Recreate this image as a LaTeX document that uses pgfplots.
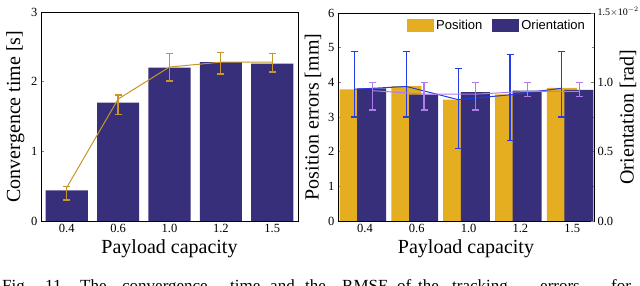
\documentclass[border=0pt]{standalone}
\usepackage{pgfplots}
\pgfplotsset{compat=1.18}
\usepackage{fontspec}
\setmainfont{Liberation Serif}
\newfontfamily\legfont{Liberation Sans}
\definecolor{navy}{RGB}{55,47,122}
\definecolor{gold}{RGB}{228,174,32}
\definecolor{ochre}{RGB}{200,150,40}
\definecolor{eblue}{RGB}{35,60,230}
\definecolor{epurp}{RGB}{175,125,235}
\begin{document}
\begin{tikzpicture}
\path[use as bounding box] (0pt,0pt) rectangle (640pt,286pt);
\pgfplotsset{
  base/.style={scale only axis, anchor=south west,
    xtick={0,...,4}, xticklabels={0.4,0.6,1.0,1.2,1.5},
    tick label style={font=\rmfamily\fontsize{12.5}{12.5}\selectfont},
    label style={font=\rmfamily\fontsize{20}{22}\selectfont},
    /pgf/number format/assume math mode=true,
    tick align=inside, major tick length=3pt, minor tick length=2pt,
    axis line style={line width=0.6pt}, tick style={line width=0.6pt}}
}
% ---------- left chart ----------
\begin{axis}[base, at={(41pt,65pt)}, width=257pt, height=209pt,
  xmin=-0.5, xmax=4.5, ymin=0, ymax=3, ytick={0,1,2,3},
  ytick pos=left, xtick pos=bottom,
  xlabel={Payload capacity}, ylabel={Convergence time [s]}]
\addplot[ybar, bar width=0.82, fill=navy, draw=none] coordinates {(0,0.44)(1,1.70)(2,2.20)(3,2.28)(4,2.26)};
\addplot[ochre, line width=1pt, mark=none,
  error bars/.cd, y dir=both, y explicit,
  error bar style={line width=1.2pt, ochre},
  error mark options={rotate=90, mark size=3.5pt, line width=1.2pt, ochre}]
  coordinates {(0,0.48) += (0,0.02) -= (0,0.18)
               (1,1.75) += (0,0.06) -= (0,0.22)
               (2,2.21) += (0,0.20) -= (0,0.20)
               (3,2.28) += (0,0.14) -= (0,0.17)
               (4,2.28) += (0,0.12) -= (0,0.14)};
\end{axis}
% ---------- right chart: position (left scale) ----------
\begin{axis}[base, at={(338pt,65pt)}, width=256pt, height=208pt,
  xmin=-0.52, xmax=4.42, ymin=0, ymax=6, ytick={0,...,6},
  ytick pos=left, xtick pos=bottom,
  xlabel={Payload capacity}, ylabel={Position errors [mm]}]
\addplot[ybar, bar width=0.58, bar shift=-0.2, fill=gold, draw=none] coordinates {(0,3.80)(1,3.89)(2,3.50)(3,3.65)(4,3.84)};
\end{axis}
% ---------- orientation (right scale) ----------
\begin{axis}[base, at={(338pt,65pt)}, width=256pt, height=208pt,
  xmin=-0.52, xmax=4.42, ymin=0, ymax=1.5,
  axis x line=none, axis y line*=right,
  ytick={0,0.5,1,1.5}, minor ytick={0.25,0.75,1.25},
  yticklabels={0.0,0.5,1.0,{\raisebox{4pt}{\fontsize{10}{10}\selectfont 1.5$\times$10$^{-2}$}}},
  ylabel={Orientation [rad]},
  every axis y label/.style={at={(axis description cs:1.133,0.5)}, rotate=90, anchor=center,
    font=\rmfamily\fontsize{20}{22}\selectfont},
  legend columns=2,
  legend style={draw=none, fill=none, at={(0.985,0.985)}, anchor=north east,
    font=\legfont\fontsize{13}{13}\selectfont,
    /tikz/every even column/.append style={column sep=8pt}},
  legend image code/.code={\fill[#1, draw=none] (0pt,-6.5pt) rectangle (27pt,6.5pt);}]
\addlegendimage{fill=gold, draw=none}
\addlegendentry{Position}
\addplot[ybar, bar width=0.56, bar shift=0.13, fill=navy, draw=none] coordinates {(0,0.957)(1,0.912)(2,0.930)(3,0.940)(4,0.945)};
\addlegendentry{Orientation}
\end{axis}
% ---------- position error bars (left scale) ----------
\begin{axis}[base, at={(338pt,65pt)}, width=256pt, height=208pt,
  xmin=-0.52, xmax=4.42, ymin=0, ymax=6, hide axis]
\addplot[eblue, line width=1pt, mark=none,
  error bars/.cd, y dir=both, y explicit,
  error bar style={line width=1.2pt, eblue},
  error mark options={rotate=90, mark size=3.5pt, line width=1.2pt, eblue}]
  coordinates {(-0.2,3.80) += (0,1.10) -= (0,0.80)
               (0.8,3.88) += (0,1.02) -= (0,0.88)
               (1.8,3.50) += (0,0.90) -= (0,1.40)
               (2.8,3.64) += (0,1.16) -= (0,1.31)
               (3.8,3.83) += (0,1.07) -= (0,0.83)};
\end{axis}
% ---------- orientation error bars (right scale) ----------
\begin{axis}[base, at={(338pt,65pt)}, width=256pt, height=208pt,
  xmin=-0.52, xmax=4.42, ymin=0, ymax=1.5, hide axis]
\addplot[epurp, line width=1pt, mark=none,
  error bars/.cd, y dir=both, y explicit,
  error bar style={line width=1.2pt, epurp},
  error mark options={rotate=90, mark size=3.5pt, line width=1.2pt, epurp}]
  coordinates {(0.14,0.940) += (0,0.060) -= (0,0.140)
               (1.14,0.915) += (0,0.085) -= (0,0.115)
               (2.14,0.915) += (0,0.085) -= (0,0.115)
               (3.14,0.935) += (0,0.065) -= (0,0.035)
               (4.14,0.935) += (0,0.065) -= (0,0.035)};
\end{axis}
% ---------- caption (cut off at the bottom edge) ----------
\begin{scope}[every node/.style={anchor=base west, inner sep=0pt, font=\fontsize{17}{19}\selectfont}]
\node at (2pt,-5.5pt) {Fig.};
\node at (45pt,-5.5pt) {11.};
\node at (80pt,-5.5pt) {The};
\node at (122pt,-5.5pt) {convergence};
\node at (230pt,-5.5pt) {time};
\node at (270pt,-5.5pt) {and};
\node at (305pt,-5.5pt) {the};
\node at (342pt,-5.5pt) {RMSE};
\node at (397pt,-5.5pt) {of};
\node at (418pt,-5.5pt) {the};
\node at (452pt,-5.5pt) {tracking};
\node at (540pt,-5.5pt) {errors};
\node at (611pt,-5.5pt) {for};
\end{scope}
\end{tikzpicture}
\end{document}
